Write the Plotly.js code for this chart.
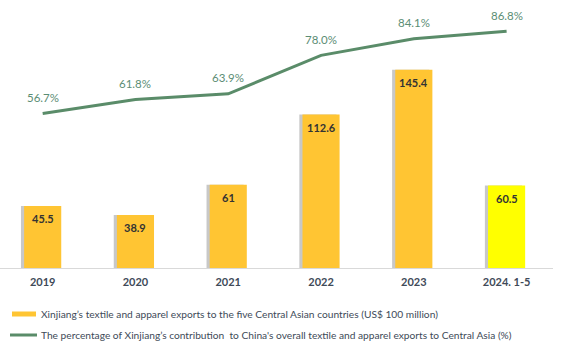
<!DOCTYPE html>
<html>
<head>
<meta charset="utf-8">
<script src="https://cdn.plot.ly/plotly-3.0.1.min.js"></script>
<style>html,body{margin:0;padding:0;background:#fff;}#chart{width:573px;height:352px;}</style>
</head>
<body>
<div id="chart"></div>
<script>
const categories = ['2019', '2020', '2021', '2022', '2023', '2024. 1-5'];
const exportsValues = [45.5, 38.9, 61, 112.6, 145.4, 60.5];
const exportLabels = ['45.5', '38.9', '61', '112.6', '145.4', '60.5'];
const shareValues = [56.7, 61.8, 63.9, 78.0, 84.1, 86.8];
const shareLabels = ['56.7%', '61.8%', '63.9%', '78.0%', '84.1%', '86.8%'];
const barColors = ['#FFC533', '#FFC533', '#FFC533', '#FFC533', '#FFC533', '#FFFF00'];
const legendNames = [
  'Xinjiang\u2019s textile and apparel exports to the five Central Asian countries (US$ 100 million)',
  'The percentage of Xinjiang\u2019s contribution  to China\'s overall textile and apparel exports to Central Asia (%)'
];

const FONT = 'Lato, "DejaVu Sans Condensed", sans-serif';
const TXT = '#404A58';
const GREEN = '#5A8C69';

const W = 573, H = 352, L = 0, R = 20, T = 9, B = 84;
const PW = W - L - R, PH = H - T - B;
const px2x = px => (px - L) / PW;
const py2y = py => (H - B - py) / PH;

const traces = [
  {
    type: 'bar', x: categories, y: exportsValues,
    marker: {color: 'rgba(110,110,110,0.38)'},
    width: 0.4, offset: -0.234, hoverinfo: 'skip', showlegend: false
  },
  {
    type: 'bar', x: categories, y: exportsValues, name: legendNames[0],
    marker: {color: barColors}, width: 0.4, offset: -0.2, showlegend: false
  },
  {
    type: 'scatter', mode: 'lines', x: categories, y: shareValues, yaxis: 'y2',
    name: legendNames[1], line: {color: GREEN, width: 3}, showlegend: false
  }
];

const annotations = [];
categories.forEach((c, i) => {
  annotations.push({
    x: i, y: exportsValues[i], xref: 'x', yref: 'y', text: exportLabels[i],
    showarrow: false, yshift: -13, yanchor: 'middle',
    font: {family: FONT, size: 11, color: '#333333', weight: 'bold'}
  });
  annotations.push({
    x: i, y: shareValues[i], xref: 'x', yref: 'y2', text: shareLabels[i],
    showarrow: false, yshift: 16, yanchor: 'middle',
    font: {family: FONT, size: 11.5, color: '#5B8D74'}
  });
});

const legendY = [314, 335];
annotations.push({
  xref: 'paper', yref: 'paper', x: px2x(39), y: py2y(legendY[0]), xanchor: 'left', yanchor: 'middle',
  text: legendNames[0], showarrow: false, font: {family: FONT, size: 10.2, color: TXT}
});
annotations.push({
  xref: 'paper', yref: 'paper', x: px2x(39), y: py2y(legendY[1]), xanchor: 'left', yanchor: 'middle',
  text: legendNames[1], showarrow: false, font: {family: FONT, size: 10.2, color: TXT}
});

const shapes = [
  {type: 'rect', xref: 'paper', yref: 'paper', x0: px2x(12), x1: px2x(36),
   y0: py2y(legendY[0] - 2.5), y1: py2y(legendY[0] + 2.5), fillcolor: '#FFC533', line: {width: 0}},
  {type: 'line', xref: 'paper', yref: 'paper', x0: px2x(10), x1: px2x(37),
   y0: py2y(legendY[1]), y1: py2y(legendY[1]), line: {color: GREEN, width: 3}}
];

const layout = {
  width: W, height: H,
  margin: {l: L, r: R, t: T, b: B},
  paper_bgcolor: '#ffffff', plot_bgcolor: '#ffffff',
  barmode: 'overlay',
  showlegend: false,
  xaxis: {
    type: 'category', range: [-0.46, 5.5], fixedrange: true,
    showline: true, linecolor: '#D9D9D9', linewidth: 1, showgrid: false, zeroline: false,
    ticks: '', ticklabelstandoff: 4, tickfont: {family: FONT, size: 11, color: TXT, weight: 'bold'}
  },
  yaxis: {range: [0, 190], visible: false, showgrid: false, zeroline: false},
  yaxis2: {range: [0, 95], overlaying: 'y', visible: false, showgrid: false, zeroline: false},
  annotations: annotations,
  shapes: shapes
};

Plotly.newPlot('chart', traces, layout, {displayModeBar: false, staticPlot: true});
</script>
</body>
</html>
